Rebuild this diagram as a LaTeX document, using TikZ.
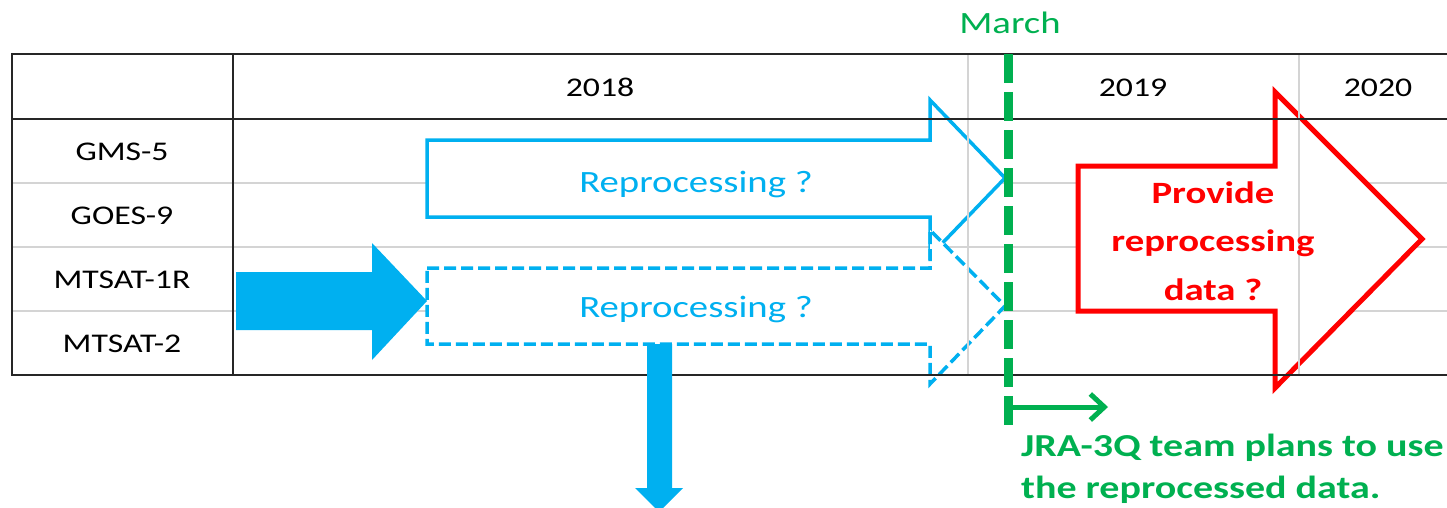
\documentclass[tikz,border=0pt]{standalone}
\usepackage{fontspec}
\setmainfont{Carlito}[FakeStretch=1.25]
\usetikzlibrary{arrows.meta}
\definecolor{sky}{HTML}{00B0F0}
\definecolor{grn}{HTML}{00B050}
\definecolor{gridgray}{HTML}{D4D4D4}
\definecolor{ink}{HTML}{262626}
\tikzset{
  gridline/.style={gridgray, line width=2.5pt},
  frameline/.style={ink, line width=2pt},
  outarrow/.style={sky, line width=3.5pt, fill=white, line join=miter},
  dasharrow/.style={outarrow, dash pattern=on 12pt off 5pt},
  redarrow/.style={red, line width=5pt, fill=white, line join=miter},
  solidarrow/.style={fill=sky, draw=none},
  tabtext/.style={font=\fontsize{27}{27}\selectfont, text=black, anchor=base, inner sep=0pt},
  bluetext/.style={font=\fontsize{31}{31}\selectfont, text=sky, anchor=base, inner sep=0pt},
  redtext/.style={font=\bfseries\fontsize{31}{31}\selectfont, text=red, anchor=base, inner sep=0pt},
  greentext/.style={font=\bfseries\fontsize{32}{32}\selectfont, text=grn, anchor=base west, inner sep=0pt},
  marchtext/.style={font=\fontsize{31}{31}\selectfont, text=grn, anchor=base, inner sep=0pt},
  marchline/.style={grn, line width=9pt, dash pattern=on 29pt off 9pt},
  planarrow/.style={grn, line width=5pt, -{Straight Barb[length=14pt,width=26pt,line width=5pt]}}
}
\begin{document}
\begin{tikzpicture}[x=1pt,y=-1pt]
\useasboundingbox (0,0) rectangle (1447,508);
\clip (0,0) rectangle (1447,508);

% light row separators
\draw[gridline] (12,183) -- (1447,183);
\draw[gridline] (12,247) -- (1447,247);
\draw[gridline] (12,311) -- (1447,311);

% outline arrows
\draw[outarrow] (427,140) -- (930,140) -- (930,100) -- (1005,178) -- (930,256) -- (930,217) -- (427,217) -- cycle;
\draw[dasharrow] (427,268) -- (930,268) -- (930,230) -- (1005,306) -- (930,384) -- (930,344) -- (427,344) -- cycle;
\draw[redarrow] (1078,166) -- (1275,166) -- (1275,92) -- (1422,239) -- (1275,388) -- (1275,311) -- (1078,311) -- cycle;

% light column separators
\draw[gridline] (968,54) -- (968,375);
\draw[gridline] (1299,54) -- (1299,375);

% table frame
\draw[frameline] (12,54) -- (1447,54);
\draw[frameline] (12,119) -- (1447,119);
\draw[frameline] (12,375) -- (1447,375);
\draw[frameline] (12,53) -- (12,376);
\draw[frameline] (233,53) -- (233,376);

% filled blue arrows
\fill[sky] (236,272) -- (372,272) -- (372,243) -- (427,301) -- (372,360) -- (372,330) -- (236,330) -- cycle;
\fill[sky] (647,344) -- (672,344) -- (672,488) -- (683,488) -- (659,512) -- (635,488) -- (647,488) -- cycle;

% March line and arrow
\coordinate (mtop) at (1008,54);
\coordinate (mbot) at (1008,428);
\draw[marchline] (mtop) -- (mbot);
\coordinate (gstart) at (1008,407);
\coordinate (gend) at (1108,407);
\draw[planarrow] (gstart) -- (gend);

% texts
\node[marchtext] (march) at (1010,34) {March};
\node[tabtext] (y2018) at (600,97) {2018};
\node[tabtext] (y2019) at (1133,97) {2019};
\node[tabtext] (y2020) at (1378,97) {2020};
\node[tabtext] (gms) at (122,160) {GMS-5};
\node[tabtext] (goes) at (122,224) {GOES-9};
\node[tabtext] (mt1r) at (122,288) {MTSAT-1R};
\node[tabtext] (mt2) at (122,352) {MTSAT-2};
\node[bluetext] (rep1) at (696,192) {Reprocessing ?};
\node[bluetext] (rep2) at (696,317) {Reprocessing ?};
\node[redtext] (prov1) at (1213,203) {Provide};
\node[redtext] (prov2) at (1213,251) {reprocessing};
\node[redtext] (prov3) at (1213,300) {data ?};
\node[greentext] (jra1) at (1021,456) {JRA-3Q team plans to use};
\node[greentext] (jra2) at (1021,498) {the reprocessed data.};
\end{tikzpicture}
\end{document}
